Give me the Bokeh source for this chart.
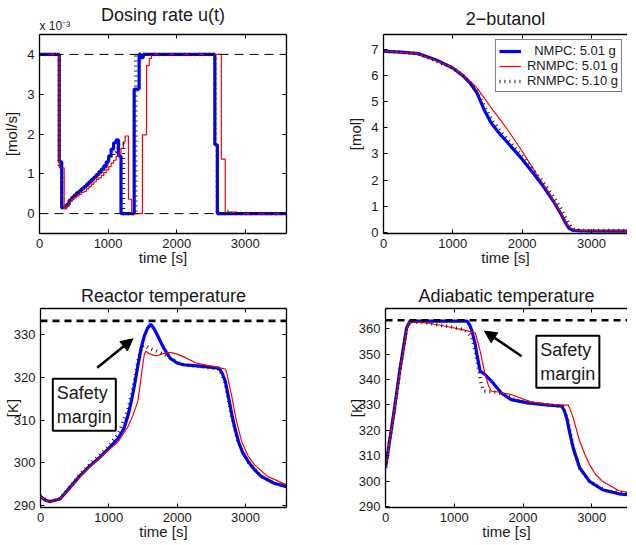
import math
from bokeh.plotting import figure
from bokeh.layouts import column, row
from bokeh.models import (Range1d, FixedTicker, LinearAxis, Label, Arrow, NormalHead,
                          Span, Legend, LegendItem, Title)
from bokeh.embed import file_html
from bokeh.resources import INLINE

FONT = "Liberation Sans"
TXT = "#1a1a1a"

# ---------------- data ----------------
time_ticks = [0, 1000, 2000, 3000]

# Dosing rate u(t) in 1e-3 mol/s : change times [s] and held values
u_nmpc_t = [0, 288, 324, 360, 396, 432, 468, 504, 540, 576, 612, 648, 684, 720, 756, 792, 828,
            864, 900, 936, 972, 1008, 1044, 1080, 1116, 1152, 1188, 1380, 1452, 1476, 1512,
            2556, 2592, 3600]
u_nmpc_v = [4.0, 1.30, 0.15, 0.17, 0.23, 0.33, 0.40, 0.46, 0.52, 0.57, 0.63, 0.68, 0.74, 0.80,
            0.86, 0.92, 0.98, 1.05, 1.12, 1.20, 1.30, 1.45, 1.62, 1.78, 1.85, 1.45, 0.0, 3.13,
            4.0, 3.92, 4.0, 1.73, 0.0, 0.0]
u_rn1_t = [0, 288, 360, 396, 432, 468, 504, 540, 576, 612, 648, 684, 720, 756, 792, 828, 864,
           900, 936, 972, 1008, 1044, 1080, 1116, 1152, 1188, 1224, 1248, 1296, 1344, 1500,
           1560, 1600, 1632, 2650, 2707, 2736, 2880, 3600]
u_rn1_v = [4.0, 1.15, 0.12, 0.18, 0.30, 0.36, 0.40, 0.44, 0.48, 0.53, 0.56, 0.62, 0.68, 0.74,
           0.80, 0.86, 0.90, 0.96, 1.03, 1.10, 1.18, 1.27, 1.34, 1.44, 1.52, 1.64, 1.80, 1.95,
           0.36, 0.0, 1.98, 3.72, 3.90, 4.0, 1.37, 0.0, 0.04, 0.0, 0.0]
u_rn2_t = [0, 288, 324, 360, 396, 432, 468, 504, 540, 576, 612, 648, 684, 720, 756, 792, 828,
           864, 900, 936, 972, 1008, 1044, 1080, 1116, 1152, 1224, 1404, 2556, 2592, 2736,
           2772, 3600]
u_rn2_v = [4.0, 1.20, 0.15, 0.18, 0.25, 0.33, 0.40, 0.46, 0.52, 0.57, 0.63, 0.68, 0.74, 0.80,
           0.86, 0.92, 0.98, 1.04, 1.10, 1.17, 1.25, 1.35, 1.45, 1.55, 1.65, 1.75, 0.0, 4.0,
           1.70, 0.0, 0.05, 0.0, 0.0]
u_bounds = [0, 4]
u_ticks = [0, 1, 2, 3, 4]

# 2-butanol [mol]
b_nmpc_t = [0, 250, 500, 750, 1000, 1150, 1250, 1350, 1450, 1550, 1650, 1750, 1850, 2000,
            2150, 2300, 2450, 2550, 2630, 2680, 2730, 2850, 3600]
b_nmpc_v = [6.92, 6.89, 6.83, 6.60, 6.28, 5.98, 5.70, 5.32, 4.70, 4.20, 3.85, 3.55, 3.25, 2.80,
            2.30, 1.78, 1.20, 0.75, 0.35, 0.15, 0.08, 0.06, 0.05]
b_rn1_t = [0, 500, 1000, 1200, 1300, 1353, 1450, 1543, 1700, 1828, 2000, 2113, 2250, 2398,
           2500, 2588, 2650, 2700, 2780, 2900, 3600]
b_rn1_v = [6.92, 6.83, 6.30, 5.90, 5.65, 5.50, 5.15, 4.80, 4.25, 3.78, 3.10, 2.63, 2.05, 1.49,
           1.00, 0.60, 0.33, 0.17, 0.09, 0.07, 0.06]
b_rn2_t = [0, 500, 1000, 1150, 1250, 1350, 1450, 1550, 1650, 1750, 1850, 2000, 2150, 2300,
           2450, 2550, 2650, 2700, 2760, 2900, 3600]
b_rn2_v = [6.92, 6.83, 6.28, 5.98, 5.72, 5.38, 4.85, 4.35, 3.98, 3.67, 3.37, 2.92, 2.43, 1.92,
           1.38, 0.95, 0.45, 0.22, 0.10, 0.08, 0.07]
b_ticks = [0, 1, 2, 3, 4, 5, 6, 7]
legend_labels = ["\u00a0\u00a0NMPC: 5.01 g", "RNMPC: 5.01 g", "RNMPC: 5.10 g"]

# Reactor temperature [K]
tr_nmpc_t = [0, 70, 142, 285, 427, 570, 712, 855, 997, 1140, 1220, 1282, 1330, 1377, 1425,
             1472, 1520, 1567, 1614, 1660, 1709, 1804, 1899, 2000, 2089, 2374, 2611, 2660,
             2706, 2750, 2801, 2850, 2896, 2960, 3039, 3130, 3229, 3419, 3600]
tr_nmpc_v = [292.1, 291.2, 290.9, 291.5, 294.1, 296.8, 299.1, 301.1, 303.3, 305.8, 308.0,
             311.2, 314.5, 318.3, 322.8, 326.9, 329.8, 331.6, 332.5, 331.5, 330.0, 326.9,
             324.5, 323.4, 323.0, 322.6, 322.2, 321.0, 319.0, 315.5, 311.2, 307.8, 305.0,
             302.3, 300.3, 298.4, 296.8, 295.2, 294.4]
tr_rn1_t = [0, 70, 142, 285, 427, 570, 712, 855, 997, 1140, 1282, 1350, 1424, 1460, 1496,
            1520, 1543, 1590, 1638, 1709, 1800, 1899, 2000, 2089, 2279, 2516, 2706, 2730,
            2754, 2800, 2849, 2900, 2944, 3040, 3134, 3324, 3600]
tr_rn1_v = [292.1, 291.2, 290.9, 291.5, 294.0, 296.6, 298.9, 300.9, 303.0, 305.0, 308.5,
            311.0, 314.4, 318.5, 323.0, 325.4, 326.2, 325.6, 325.3, 325.1, 325.6, 325.9,
            325.5, 324.9, 323.4, 322.6, 322.0, 320.8, 319.0, 315.5, 311.2, 307.7, 305.0,
            301.5, 299.5, 296.8, 294.8]
tr_rn2_t = [0, 142, 285, 427, 570, 712, 855, 997, 1140, 1282, 1377, 1440, 1490, 1530, 1600,
            1700, 1800, 1900, 2000, 2100, 2300, 2611, 2660, 2706, 2801, 2896, 3039, 3229,
            3419, 3600]
tr_rn2_v = [292.1, 290.9, 291.6, 294.3, 297.1, 299.5, 301.6, 303.9, 306.8, 312.5, 319.5,
            325.0, 327.3, 327.6, 326.8, 326.2, 325.5, 324.6, 323.6, 323.0, 322.6, 322.0,
            320.6, 318.3, 310.6, 304.7, 300.2, 296.8, 295.2, 294.4]
tr_limit = 333.3
tr_ticks = [290, 300, 310, 320, 330]

# Adiabatic temperature [K]
ta_nmpc_t = [0, 118, 213, 308, 356, 700, 1187, 1225, 1258, 1300, 1330, 1377, 1448, 1543, 1685,
             1828, 2065, 2303, 2564, 2600, 2635, 2680, 2730, 2825, 2967, 3157, 3395, 3600]
ta_nmpc_v = [305.2, 326.2, 344.6, 360.4, 363.0, 363.0, 363.0, 361.5, 359.1, 354.5, 349.9,
             343.3, 342.0, 339.3, 334.7, 332.1, 330.8, 330.1, 329.5, 327.8, 324.9, 319.0,
             313.0, 305.2, 299.9, 296.6, 295.0, 294.5]
ta_rn1_t = [0, 118, 213, 308, 340, 380, 600, 878, 1116, 1306, 1340, 1377, 1448, 1500, 1543,
            1638, 1828, 2113, 2398, 2659, 2690, 2730, 2780, 2825, 2900, 2967, 3060, 3157, 3395,
            3600]
ta_rn1_v = [305.2, 325.6, 343.5, 359.5, 362.4, 362.8, 362.3, 361.0, 359.7, 358.4, 355.0,
            351.2, 342.0, 337.5, 335.4, 335.1, 334.1, 331.2, 330.1, 329.9, 328.0, 324.9,
            320.0, 315.7, 310.5, 306.5, 302.5, 299.9, 296.2, 295.2]
ta_rn2_t = [0, 118, 213, 308, 356, 600, 900, 1150, 1250, 1300, 1340, 1390, 1430, 1550, 1700,
            1900, 2300, 2580, 2650, 2740, 2830, 2970, 3200, 3600]
ta_rn2_v = [305.2, 326.0, 344.0, 360.0, 362.8, 362.3, 361.0, 359.6, 357.0, 352.0, 346.0,
            338.5, 335.5, 335.2, 334.5, 331.8, 330.2, 329.4, 324.0, 312.0, 304.8, 299.8,
            296.2, 294.8]
ta_limit = 363.4
ta_ticks = [290, 300, 310, 320, 330, 340, 350, 360]

# ---------------- styling helpers ----------------
BLUE = dict(color="#0000ff", line_width=3.2)
RED = dict(color="#ff0000", line_width=1.2)
BLK = dict(color="#222222", line_width=3.5, line_dash="1 4", line_cap="butt")


def safe_set(obj, attr, val, fallback):
    try:
        setattr(obj, attr, val)
    except Exception:
        setattr(obj, attr, fallback)


def style_axis(ax, ticks, labels=True):
    ax.ticker = FixedTicker(ticks=ticks)
    ax.major_tick_in = 4
    ax.major_tick_out = 0
    ax.minor_tick_line_color = None
    ax.axis_line_color = "black"
    ax.axis_line_width = 1.3
    ax.major_tick_line_color = "black"
    ax.major_tick_line_width = 1
    ax.major_label_text_font = FONT
    ax.major_label_text_color = TXT
    if labels:
        ax.major_label_text_font_size = "13px"
    else:
        ax.major_label_text_font_size = "0px"
        ax.major_label_overrides = {float(t): "" for t in ticks}
        ax.major_label_standoff = 0


def make_fig(title, w, h, x_end, yr, yticks, ylab, ylab_off, bl, bt, bb, br, tstand,
             right_axis):
    p = figure(width=w, height=h, x_range=Range1d(0, x_end), y_range=Range1d(*yr),
               output_backend="svg", toolbar_location=None, title=title,
               min_border_left=bl, min_border_top=bt, min_border_bottom=bb,
               min_border_right=br, x_axis_label="time [s]", y_axis_label=ylab)
    p.title.text_font = FONT
    p.title.text_font_size = "18px"
    p.title.text_font_style = "normal"
    p.title.text_color = TXT
    p.title.align = "center"
    safe_set(p.title, "standoff", tstand, 0)
    p.grid.visible = False
    p.outline_line_color = None
    p.background_fill_color = "white"
    p.border_fill_color = "white"
    xa = p.xaxis[0]
    style_axis(xa, time_ticks)
    xa.major_label_standoff = 5
    safe_set(xa, "axis_label_standoff", -2, 0)
    ya = p.yaxis[0]
    style_axis(ya, yticks)
    ya.major_label_standoff = 5
    safe_set(ya, "axis_label_standoff", ylab_off, 0)
    for ax in (xa, ya):
        ax.axis_label_text_font = FONT
        ax.axis_label_text_font_size = "15px"
        ax.axis_label_text_font_style = "normal"
        ax.axis_label_text_color = TXT
    top = LinearAxis()
    style_axis(top, time_ticks, labels=False)
    p.add_layout(top, "above")
    if right_axis:
        ra = LinearAxis()
        style_axis(ra, yticks, labels=False)
        p.add_layout(ra, "right")
    return p


def margin_box(p, x, y):
    p.add_layout(Label(x=x, y=y, text="Safety\nmargin", text_align="left", text_baseline="top",
                       text_font=FONT, text_font_size="18px", text_color=TXT,
                       border_line_color="black", border_line_width=2,
                       background_fill_color="white", padding=4))


W1, W2 = 344, 283
H1, H2 = 273, 270
XR = 3520  # right column is cut by the picture edge

# ---- Dosing rate ----
p1 = make_fig("Dosing rate u(t)", W1, H1, 3600, (-0.5, 4.5), u_ticks, "[mol/s]", 4,
              33, 34, 40, 58, -20, True)
exp_title = Title(text="x 10\u207b\u00b3", align="left", text_font=FONT,
                  text_font_size="12px", text_font_style="normal", text_color=TXT, standoff=4)
p1.add_layout(exp_title, "above")
for b in u_bounds:
    p1.add_layout(Span(location=b, dimension="width", line_color="black", line_width=1,
                       line_dash="9 6"))
p1.step(u_nmpc_t, u_nmpc_v, mode="after", **BLUE)
p1.step(u_rn1_t, u_rn1_v, mode="after", **RED)
p1.step(u_rn2_t, u_rn2_v, mode="after", **BLK)

# ---- 2-butanol ----
p2 = make_fig("2\u2212butanol", W2, H1, XR, (-0.04, 7.56), b_ticks, "[mol]", 4,
              36, 34, 40, 0, 12, False)
r1 = p2.line(b_nmpc_t, b_nmpc_v, **BLUE)
r2 = p2.line(b_rn1_t, b_rn1_v, **RED)
r3 = p2.line(b_rn2_t, b_rn2_v, **BLK)
leg = Legend(items=[LegendItem(label=legend_labels[0], renderers=[r1]),
                    LegendItem(label=legend_labels[1], renderers=[r2]),
                    LegendItem(label=legend_labels[2], renderers=[r3])],
             location="top_right", margin=5, padding=3, spacing=0, label_height=14,
             glyph_height=14, glyph_width=22, label_standoff=6,
             label_text_font=FONT, label_text_font_size="13px", label_text_color=TXT,
             border_line_color="black", border_line_width=1, background_fill_alpha=1)
p2.add_layout(leg)

# ---- Reactor temperature ----
p3 = make_fig("Reactor temperature", W1, H2, 3600, (289.5, 336.2), tr_ticks, "[K]", -10,
              33, 35, 36, 58, 6, True)
p3.line(tr_nmpc_t, tr_nmpc_v, **BLUE)
p3.line(tr_rn1_t, tr_rn1_v, **RED)
p3.line(tr_rn2_t, tr_rn2_v, **BLK)
p3.add_layout(Span(location=tr_limit, dimension="width", line_color="black", line_width=2.6,
                   line_dash="7 5"))
p3.add_layout(Arrow(x_start=830, y_start=322.3, x_end=1353, y_end=329.1, line_width=2.5,
                    line_color="black",
                    end=NormalHead(size=12, fill_color="black", line_color="black")))
margin_box(p3, 180, 319.7)

# ---- Adiabatic temperature ----
p4 = make_fig("Adiabatic temperature", W2, H2, XR, (289.6, 368.0), ta_ticks, "[K]", -9,
              36, 35, 36, 0, 6, False)
p4.line(ta_nmpc_t, ta_nmpc_v, **BLUE)
p4.line(ta_rn1_t, ta_rn1_v, **RED)
p4.line(ta_rn2_t, ta_rn2_v, **BLK)
p4.add_layout(Span(location=ta_limit, dimension="width", line_color="black", line_width=2.6,
                   line_dash="7 5"))
p4.add_layout(Arrow(x_start=1980, y_start=349.2, x_end=1440, y_end=359.1, line_width=2.5,
                    line_color="black",
                    end=NormalHead(size=12, fill_color="black", line_color="black")))
margin_box(p4, 2194, 357.3)

layout = column(row(p1, p2), row(p3, p4))
open("out.html", "w").write(file_html(layout, INLINE))
